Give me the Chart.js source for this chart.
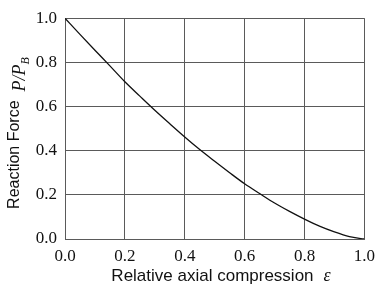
<!DOCTYPE html>
<html>
<head>
<meta charset="utf-8">
<script src="https://cdn.jsdelivr.net/npm/chart.js@4"></script>
<style>
  html,body{margin:0;padding:0;background:#fff;}
  #wrap{width:382px;height:289px;}
</style>
</head>
<body>
<div id="wrap"><canvas id="forceChart" width="382" height="289"></canvas></div>
<script>
// values
var compression = [0.0,0.05,0.1,0.15,0.2,0.25,0.3,0.35,0.4,0.45,0.5,0.55,0.6,0.65,0.7,0.75,0.8,0.85,0.9,0.95,1.0];
var reaction    = [1.0,0.927,0.855,0.784,0.712,0.647,0.583,0.522,0.462,0.405,0.352,0.300,0.250,0.206,0.163,0.125,0.090,0.058,0.032,0.011,0.0];
var xTicks = ["0.0","0.2","0.4","0.6","0.8","1.0"];
var yTicks = ["0.0","0.2","0.4","0.6","0.8","1.0"];

var points = [];
for (var i = 0; i < compression.length; i++) {
  points.push({x: compression[i], y: reaction[i]});
}

var gridColor = "#5a5a5a";
var serifFamily = "'Liberation Serif', 'Times New Roman', Tinos, 'DejaVu Serif', serif";
Chart.defaults.color = "#111";

// axis titles mix a sans label with serif italic math, so draw them by hand
var titlePlugin = {
  id: "axisTitles",
  afterDraw: function(chart) {
    var ctx = chart.ctx;
    var math = "italic 18px " + serifFamily;
    var sub  = "italic 12px " + serifFamily;
    ctx.save();
    ctx.fillStyle = "#111";
    ctx.textBaseline = "alphabetic";

    // x title
    var sansX = "17px 'Liberation Sans', Arial, sans-serif";
    ctx.font = sansX;
    var t1 = "Relative axial compression";
    var w1 = ctx.measureText(t1).width;
    ctx.font = math;
    var w2 = ctx.measureText("\u03b5").width;
    var gap = 10;
    var x0 = 221 - (w1 + gap + w2) / 2;
    ctx.font = sansX;
    ctx.fillText(t1, x0, 281);
    ctx.font = math;
    ctx.fillText("\u03b5", x0 + w1 + gap, 281);

    // y title (rotated)
    var sansY = "16px 'Liberation Sans', Arial, sans-serif";
    ctx.translate(19, 0);
    ctx.rotate(-Math.PI / 2);
    ctx.font = sansY;
    var s1 = "Reaction Force";
    var a = ctx.measureText(s1).width;
    ctx.font = math;
    var b = ctx.measureText("P/P").width;
    ctx.font = sub;
    var c = ctx.measureText("B").width;
    var total = a + 9 + b + c;
    var start = -133 - total / 2;
    ctx.font = sansY;
    ctx.fillText(s1, start, 0);
    ctx.font = math;
    ctx.fillText("P/P", start + a + 9, 6);
    ctx.font = sub;
    ctx.fillText("B", start + a + 9 + b, 10);
    ctx.restore();
  }
};

var ctx = document.getElementById("forceChart");
var chart = new Chart(ctx, {
  type: "line",
  data: {
    datasets: [{
      label: "",
      data: points,
      borderColor: "#111",
      borderWidth: 1.3,
      pointRadius: 0,
      cubicInterpolationMode: "monotone",
      fill: false
    }]
  },
  options: {
    responsive: false,
    animation: false,
    layout: {padding: {left: 0, right: 14, top: 12, bottom: 0}},
    plugins: {
      legend: {display: false},
      tooltip: {enabled: false}
    },
    scales: {
      x: {
        type: "linear",
        min: 0, max: 1,
        grid: {color: gridColor, drawTicks: false, lineWidth: 1},
        border: {color: gridColor, width: 1},
        ticks: {
          stepSize: 0.2,
          padding: 7,
          maxRotation: 0,
          font: {family: serifFamily, size: 17},
          callback: function(v, idx) { return xTicks[idx]; }
        },
        afterFit: function(scale) { scale.height = 50; }
      },
      y: {
        min: 0, max: 1,
        grid: {color: gridColor, drawTicks: false, lineWidth: 1},
        border: {color: gridColor, width: 1},
        ticks: {
          stepSize: 0.2,
          padding: 8,
          font: {family: serifFamily, size: 17},
          callback: function(v, idx) { return yTicks[idx]; }
        },
        afterFit: function(scale) { scale.width = 65; }
      }
    }
  },
  plugins: [titlePlugin]
});
</script>
</body>
</html>
